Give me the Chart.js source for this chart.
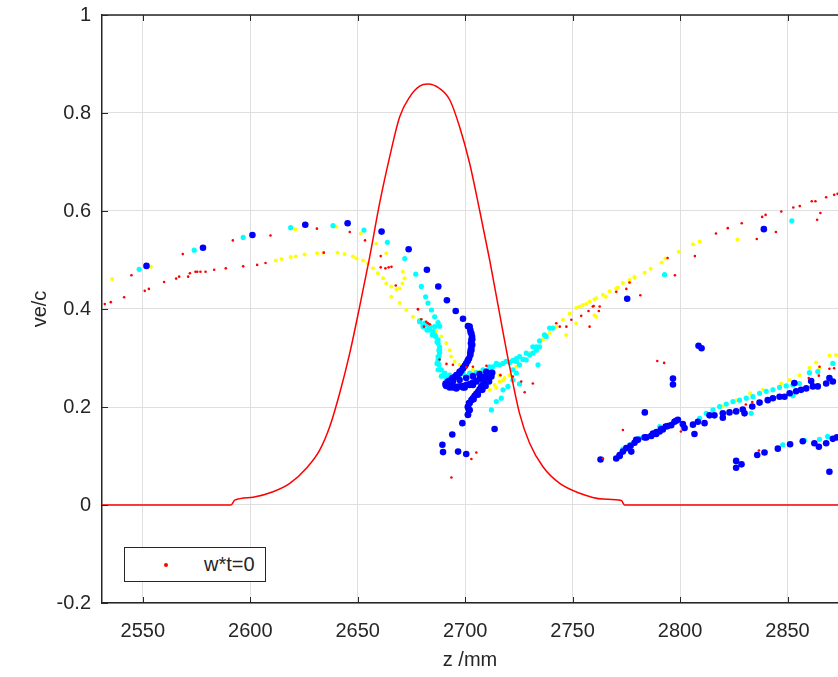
<!DOCTYPE html>
<html>
<head>
<meta charset="utf-8">
<script src="https://cdn.jsdelivr.net/npm/chart.js@4"></script>
<style>
  html, body { margin: 0; padding: 0; background: #fff; overflow: hidden; }
  #wrap { position: relative; width: 838px; height: 677px; }
  #legend {
    position: absolute; left: 124px; top: 547px; width: 140px; height: 33px;
    border: 1px solid #262626; background: #fff;
    font: 20px "Liberation Sans", Arial, sans-serif; color: #262626;
  }
  #legend .dot {
    position: absolute; left: 39px; top: 15px; width: 4px; height: 4px;
    border-radius: 50%; background: #ff0000;
  }
  #legend .lbl { position: absolute; left: 79px; top: 5px; }
</style>
</head>
<body>
<div id="wrap">
  <canvas id="c" width="838" height="677"></canvas>
  <div id="legend"><span class="dot"></span><span class="lbl">w*t=0</span></div>
</div>
<script>
// axis ticks
const xTicks = [2550, 2600, 2650, 2700, 2750, 2800, 2850];
const yTicks = [-0.2, 0, 0.2, 0.4, 0.6, 0.8, 1];

// field envelope (red line), [z, ve/c]
const pulse = [
  [2531, 0], [2591, 0], [2592.8, 0.010], [2601.3, 0.016], [2610.6, 0.027], [2618.4, 0.044],
  [2626.1, 0.075], [2632.3, 0.112], [2637, 0.16], [2641.6, 0.228], [2646.3, 0.31],
  [2650.9, 0.405], [2655.6, 0.507], [2660.2, 0.616], [2664.9, 0.711], [2669.5, 0.792],
  [2674.2, 0.833], [2678.8, 0.855], [2682.7, 0.859], [2688.1, 0.850], [2692.8, 0.827],
  [2697.4, 0.772], [2702.1, 0.697], [2706.7, 0.602], [2711.4, 0.5], [2716, 0.391],
  [2720.7, 0.282], [2725.3, 0.187], [2730, 0.126], [2736.2, 0.078], [2744, 0.044],
  [2753.3, 0.024], [2764.1, 0.012], [2772.7, 0.009], [2774.2, 0], [2900, 0]
];

// w*t=0 (red dots)
const dotsRed = [
  [2532.3, 0.410], [2535.1, 0.414], [2541.3, 0.424], [2544.7, 0.469], [2550.9, 0.437],
  [2552.8, 0.441], [2559.9, 0.455], [2565.5, 0.462], [2566.9, 0.466], [2568.6, 0.512],
  [2571.1, 0.466], [2571.9, 0.473], [2574.5, 0.476], [2575.3, 0.476], [2576.8, 0.476],
  [2579.2, 0.476], [2583.2, 0.480], [2588.6, 0.483], [2591.9, 0.540], [2596.7, 0.487],
  [2603.2, 0.490], [2607.1, 0.494], [2609.4, 0.550], [2634.2, 0.515], [2631, 0.564],
  [2646.3, 0.557], [2653.4, 0.540], [2660.7, 0.508], [2660.7, 0.485], [2662.9, 0.483],
  [2664.4, 0.485], [2665.7, 0.486], [2667.7, 0.448], [2678, 0.400], [2679.6, 0.379],
  [2681.9, 0.374], [2683.5, 0.369], [2678.1, 0.399], [2680.8, 0.364], [2682.7, 0.371],
  [2688.1, 0.297], [2691.3, 0.288], [2694.3, 0.286], [2700.6, 0.281], [2703.6, 0.282],
  [2709.9, 0.284], [2716.4, 0.265], [2722.2, 0.262], [2726.1, 0.252], [2727.7, 0.230],
  [2731.5, 0.248], [2705.2, 0.107], [2702.9, 0.094], [2693.6, 0.056], [2742.4, 0.371],
  [2744, 0.364], [2747.1, 0.364], [2749.4, 0.378], [2754, 0.386], [2757.9, 0.364],
  [2759.4, 0.405], [2762.6, 0.405], [2770.3, 0.435], [2773.4, 0.153], [2764.1, 0.095],
  [2757.4, 0.396], [2759.8, 0.406], [2762.2, 0.396], [2775, 0.441], [2776.5, 0.454],
  [2781.5, 0.428], [2794.2, 0.504], [2797.6, 0.469], [2806.9, 0.508], [2816.7, 0.554],
  [2822.2, 0.565], [2828.7, 0.575], [2835.7, 0.543], [2838.2, 0.588], [2839.8, 0.592],
  [2844.6, 0.557], [2847.1, 0.599], [2852.7, 0.607], [2855.7, 0.610], [2861.3, 0.620],
  [2863, 0.620], [2863.8, 0.582], [2865.3, 0.596], [2868, 0.628], [2871.7, 0.633],
  [2873.3, 0.635], [2789.4, 0.294], [2792.6, 0.290], [2800.4, 0.150], [2830.6, 0.205],
  [2833.6, 0.210], [2836.7, 0.111], [2859.9, 0.259], [2864.6, 0.264], [2864.9, 0.282],
  [2869.5, 0.278], [2871.7, 0.279]
];

// yellow dots
const dotsYellow = [
  [2535.7, 0.461], [2553.7, 0.486], [2611.9, 0.499], [2614.5, 0.502], [2618.8, 0.506],
  [2621.2, 0.507], [2625.3, 0.511], [2631.1, 0.514], [2633.9, 0.515], [2640.6, 0.515],
  [2643.9, 0.512], [2647.8, 0.507], [2649.4, 0.503], [2652.5, 0.499], [2654.8, 0.493],
  [2657.1, 0.483], [2659.4, 0.473], [2661.8, 0.463], [2663.3, 0.452], [2665.6, 0.446],
  [2668, 0.440], [2669.5, 0.442], [2670.8, 0.452], [2671.8, 0.463], [2621, 0.563],
  [2640, 0.568], [2651.4, 0.554], [2658.7, 0.533], [2663.3, 0.514], [2671, 0.476],
  [2665.6, 0.425], [2669.5, 0.412], [2672.6, 0.398], [2675.7, 0.384], [2678.8, 0.378],
  [2682.7, 0.367], [2686.6, 0.354], [2688.9, 0.344], [2691.2, 0.330], [2692.8, 0.316],
  [2693.5, 0.303], [2695.1, 0.293], [2697.4, 0.286], [2700.5, 0.279], [2703.6, 0.276],
  [2706.7, 0.272], [2709.8, 0.272], [2712.9, 0.272], [2716, 0.265], [2718.3, 0.259],
  [2716, 0.252], [2713.7, 0.245], [2711.4, 0.235], [2717.6, 0.254], [2720.7, 0.265],
  [2723.8, 0.282], [2726.9, 0.296], [2730, 0.310], [2733.1, 0.323], [2736.2, 0.337],
  [2739.3, 0.351], [2742.4, 0.364], [2745.5, 0.378], [2748.6, 0.391], [2751.7, 0.402],
  [2754.8, 0.408], [2757.9, 0.415], [2761, 0.422], [2764.1, 0.429], [2767.2, 0.436],
  [2770.3, 0.442], [2773.4, 0.453], [2776.5, 0.459], [2778.8, 0.466], [2747, 0.347],
  [2751.7, 0.371], [2761, 0.384], [2753.3, 0.405], [2756.4, 0.410], [2760.2, 0.420],
  [2760.2, 0.387], [2765.4, 0.425], [2771.1, 0.444], [2776.5, 0.455], [2778.8, 0.464],
  [2783.5, 0.474], [2786.3, 0.482], [2791.5, 0.495], [2793.2, 0.503], [2799.4, 0.517],
  [2806, 0.532], [2809.1, 0.538], [2826.7, 0.542], [2863.3, 0.291], [2864.9, 0.279],
  [2869.5, 0.305], [2872.6, 0.306], [2860.2, 0.280], [2855.6, 0.265], [2850.9, 0.255],
  [2847, 0.248], [2843.2, 0.236], [2838.5, 0.235], [2832.6, 0.228], [2826.1, 0.214],
  [2819.9, 0.201], [2714.5, 0.239]
];

// cyan dots
const dotsCyan = [
  [2548.3, 0.481], [2573.9, 0.520], [2596.7, 0.546], [2618.8, 0.566], [2638.5, 0.570],
  [2652.9, 0.561], [2663.8, 0.536], [2671.9, 0.503], [2677, 0.471], [2679.6, 0.446],
  [2681.6, 0.425], [2682.7, 0.412], [2684.3, 0.398], [2685.8, 0.384], [2687.4, 0.372],
  [2688.1, 0.365], [2685.8, 0.364], [2683.5, 0.365], [2681.2, 0.371], [2678.8, 0.376],
  [2678.8, 0.374], [2681.2, 0.367], [2683.5, 0.361], [2685, 0.354], [2686.3, 0.344],
  [2687.4, 0.330], [2687.8, 0.316], [2687.4, 0.303], [2686.9, 0.289], [2687.4, 0.276],
  [2688.9, 0.263], [2691.2, 0.259], [2680.4, 0.367], [2682.2, 0.357], [2684.7, 0.347],
  [2686.9, 0.333], [2688.1, 0.316], [2687.8, 0.303], [2687.4, 0.289], [2688.1, 0.276],
  [2689.7, 0.265], [2692, 0.259], [2694.3, 0.255], [2697.4, 0.259], [2700.5, 0.262],
  [2703.6, 0.265], [2706.7, 0.269], [2709.8, 0.274], [2712.9, 0.282], [2714.5, 0.289],
  [2716, 0.286], [2719.1, 0.293], [2722.2, 0.295], [2723.8, 0.299], [2725.3, 0.303],
  [2728.4, 0.310], [2731.5, 0.323], [2733.1, 0.323], [2734.6, 0.335], [2736.9, 0.347],
  [2737.7, 0.344], [2739.3, 0.361], [2740.8, 0.361], [2722.2, 0.276], [2725.3, 0.286],
  [2728.4, 0.296], [2731.5, 0.310], [2734.6, 0.323], [2733.9, 0.286], [2723.8, 0.269],
  [2722.2, 0.255], [2719.9, 0.242], [2717.6, 0.235], [2716.8, 0.218], [2714.5, 0.211],
  [2712.2, 0.194], [2725.3, 0.247], [2792.8, 0.470], [2852, 0.580], [2790.5, 0.160],
  [2776.5, 0.123], [2773.4, 0.114], [2781.2, 0.136], [2787.4, 0.146], [2809.1, 0.177],
  [2812.2, 0.187], [2815.3, 0.194], [2818.4, 0.201], [2821.5, 0.206], [2824.6, 0.211],
  [2827.7, 0.214], [2830.8, 0.218], [2833.9, 0.221], [2837, 0.228], [2840.1, 0.232],
  [2843.2, 0.235], [2846.3, 0.240], [2849.4, 0.243], [2852.5, 0.245], [2855.6, 0.248],
  [2860.2, 0.270], [2864.1, 0.272], [2871.1, 0.289], [2833.1, 0.187], [2852.5, 0.223],
  [2847.8, 0.123], [2857.9, 0.132], [2864.9, 0.134], [2868.7, 0.140],
  [2680.4, 0.364], [2683.5, 0.357], [2685.8, 0.347], [2687.4, 0.337], [2688.1, 0.323],
  [2688.1, 0.310], [2687.4, 0.296], [2687.8, 0.286], [2688.9, 0.276], [2690.5, 0.269],
  [2692.8, 0.265], [2695.9, 0.265], [2699, 0.268], [2702.1, 0.269], [2705.2, 0.270],
  [2708.3, 0.276], [2711.4, 0.282], [2714.5, 0.287], [2717.6, 0.289], [2720.7, 0.291],
  [2723.8, 0.293], [2726.9, 0.297], [2730, 0.306], [2733.1, 0.316]
];

// blue dots
const dotsBlue = [
  [2551.7, 0.488], [2578, 0.525], [2601, 0.551], [2625.6, 0.572], [2645.3, 0.575],
  [2661.1, 0.558], [2673.7, 0.522], [2682.2, 0.480], [2687.5, 0.446], [2691.5, 0.418],
  [2695.6, 0.396], [2699, 0.380], [2701.3, 0.365], [2702.6, 0.352], [2703.3, 0.338],
  [2703.3, 0.327], [2702.9, 0.316], [2702.4, 0.306], [2701.3, 0.296], [2700.2, 0.286],
  [2699, 0.279], [2697.4, 0.272], [2695.9, 0.265], [2694, 0.259], [2692, 0.252],
  [2690.9, 0.245], [2692.8, 0.240], [2695.9, 0.238], [2699, 0.240], [2702.1, 0.245],
  [2705.2, 0.252], [2708.3, 0.259], [2711.1, 0.265], [2712.6, 0.270], [2712.2, 0.262],
  [2711.1, 0.252], [2709.5, 0.243], [2708, 0.235], [2705.9, 0.225], [2703.9, 0.216],
  [2702.1, 0.208], [2701.3, 0.201], [2702.1, 0.194], [2701.3, 0.184], [2698.7, 0.167],
  [2694, 0.144], [2689.4, 0.123], [2689.7, 0.108], [2696.7, 0.109], [2700.5, 0.104],
  [2713.7, 0.155], [2694.3, 0.252], [2697.4, 0.255], [2700.5, 0.259], [2703.6, 0.263],
  [2706.7, 0.267], [2709.8, 0.272], [2692.8, 0.245], [2699.8, 0.240], [2703.6, 0.245],
  [2702.1, 0.364], [2702.9, 0.350], [2702.9, 0.337], [2702.9, 0.323], [2702.4, 0.310],
  [2701.8, 0.299], [2700.5, 0.289], [2699, 0.279], [2697.4, 0.269], [2695.1, 0.261],
  [2692.8, 0.254], [2690.9, 0.248], [2691.2, 0.243], [2694.3, 0.240], [2697.4, 0.242],
  [2700.5, 0.245], [2703.6, 0.250], [2706.7, 0.257], [2709.8, 0.263], [2712.2, 0.270],
  [2710.6, 0.262], [2709.1, 0.252], [2707.5, 0.242], [2706, 0.231], [2704.4, 0.223],
  [2702.9, 0.214], [2701.8, 0.208], [2701.3, 0.199], [2701.8, 0.193], [2701.3, 0.184],
  [2692, 0.251], [2695.9, 0.241], [2699, 0.243], [2702.1, 0.247], [2705.2, 0.253],
  [2708.3, 0.260], [2711, 0.267], [2709.8, 0.256], [2708.3, 0.246], [2706.7, 0.236],
  [2705.2, 0.227], [2703.6, 0.218], [2699.8, 0.284], [2698.2, 0.274], [2696.4, 0.265],
  [2694, 0.257], [2702.6, 0.316], [2703.2, 0.344], [2702.7, 0.330], [2702.4, 0.357],
  [2701.2, 0.294],
  [2775.4, 0.421], [2839, 0.563], [2808.6, 0.325], [2810, 0.320], [2796.7, 0.258],
  [2796.7, 0.246], [2783.6, 0.189], [2763, 0.093], [2770.3, 0.095], [2771.9, 0.102],
  [2773.4, 0.109], [2775, 0.116], [2777, 0.121], [2777.3, 0.109], [2779.6, 0.133],
  [2780.4, 0.133], [2783.5, 0.138], [2786.6, 0.141], [2788.9, 0.145], [2790.5, 0.150],
  [2791.2, 0.155], [2794.3, 0.161], [2795.9, 0.163], [2798.2, 0.172], [2801.3, 0.165],
  [2802.1, 0.157], [2806.7, 0.145], [2806, 0.164], [2808.3, 0.170], [2811.4, 0.167],
  [2813.7, 0.183], [2816, 0.183], [2819.9, 0.187], [2819.9, 0.178], [2823, 0.189],
  [2826.1, 0.191], [2829.2, 0.195], [2830, 0.187], [2833.6, 0.201], [2837, 0.209],
  [2840.8, 0.214], [2843.2, 0.218], [2846.3, 0.221], [2848.6, 0.221], [2851, 0.228],
  [2854, 0.232], [2856.3, 0.235], [2858.7, 0.238], [2861.8, 0.242], [2864.1, 0.242],
  [2868, 0.248], [2871.1, 0.252], [2853.2, 0.249], [2861, 0.253], [2869.5, 0.259],
  [2771.9, 0.100], [2778.8, 0.127], [2784.3, 0.138], [2787.4, 0.146], [2789, 0.149],
  [2792, 0.154], [2793.3, 0.160], [2797.4, 0.170], [2799, 0.174],
  [2826.1, 0.090], [2826.1, 0.076], [2828.6, 0.083], [2835.9, 0.102], [2839.3, 0.107],
  [2845.5, 0.115], [2851.2, 0.124], [2857.1, 0.130], [2862.5, 0.126], [2864.6, 0.119],
  [2868, 0.126], [2871.1, 0.135], [2873, 0.138], [2869.5, 0.068]
];

const axisColor = '#262626';
const gridColor = '#dfdfdf';
const font = { family: '"Liberation Sans", Arial, sans-serif', size: 20 };

const toXY = arr => arr.map(([x, y]) => ({ x, y }));

function dots(data, color, r) {
  return {
    type: 'scatter', data: toXY(data),
    pointRadius: r, pointHoverRadius: r,
    pointBackgroundColor: color, pointBorderWidth: 0, showLine: false,
  };
}

// box top border + inward ticks, like MATLAB axes
const frame = {
  id: 'frame',
  afterDraw(chart) {
    const { ctx, chartArea: a, scales } = chart;
    ctx.save();
    ctx.strokeStyle = axisColor;
    ctx.lineWidth = 1.5;
    ctx.beginPath();
    ctx.moveTo(a.left, a.top);
    ctx.lineTo(a.right, a.top);
    ctx.stroke();
    ctx.lineWidth = 1;
    ctx.beginPath();
    xTicks.forEach(v => {
      const px = Math.round(scales.x.getPixelForValue(v)) + 0.5;
      ctx.moveTo(px, a.bottom); ctx.lineTo(px, a.bottom - 6);
      ctx.moveTo(px, a.top);    ctx.lineTo(px, a.top + 6);
    });
    yTicks.forEach(v => {
      const py = Math.round(scales.y.getPixelForValue(v)) + 0.5;
      ctx.moveTo(a.left, py); ctx.lineTo(a.left + 6, py);
    });
    ctx.stroke();
    ctx.restore();
  }
};

new Chart(document.getElementById('c'), {
  type: 'scatter',
  data: {
    datasets: [
      {
        type: 'line', data: toXY(pulse),
        borderColor: '#ff0000', borderWidth: 1.5, pointRadius: 0, fill: false,
        cubicInterpolationMode: 'monotone',
      },
      dots(dotsRed, '#ff0000', 1.3),
      dots(dotsBlue, '#0000ff', 3.3),
      dots(dotsCyan, '#00ffff', 2.6),
      dots(dotsYellow, '#ffff00', 2),
    ],
  },
  options: {
    responsive: false,
    animation: false,
    layout: { autoPadding: false, padding: { top: 15, right: 0, bottom: 0, left: 0 } },
    plugins: { legend: { display: false }, tooltip: { enabled: false } },
    scales: {
      x: {
        type: 'linear', min: 2531, max: 2873.5,
        afterFit(s) { s.height = 74; s.paddingLeft = 0; s.paddingRight = 0; },
        afterBuildTicks(s) { s.ticks = xTicks.map(v => ({ value: v })); },
        grid: { color: gridColor, drawTicks: false },
        border: { color: axisColor, width: 1.5 },
        ticks: { padding: 16, font, color: axisColor, maxRotation: 0, autoSkip: false,
                 callback: v => String(v) },
        title: { display: true, text: 'z /mm', font, color: axisColor, padding: { top: 0, bottom: 5 } },
      },
      y: {
        type: 'linear', min: -0.2, max: 1,
        afterFit(s) { s.width = 102; s.paddingTop = 0; s.paddingBottom = 0; },
        afterBuildTicks(s) { s.ticks = yTicks.map(v => ({ value: v })); },
        grid: { color: gridColor, drawTicks: false },
        border: { color: axisColor, width: 1.5 },
        ticks: { padding: 11, font, color: axisColor, autoSkip: false,
                 callback: v => String(Math.round(v * 10) / 10) },
        title: { display: true, text: 've/c', font, color: axisColor, padding: { top: 28, bottom: 0 } },
      },
    },
  },
  plugins: [frame],
});
</script>
</body>
</html>
